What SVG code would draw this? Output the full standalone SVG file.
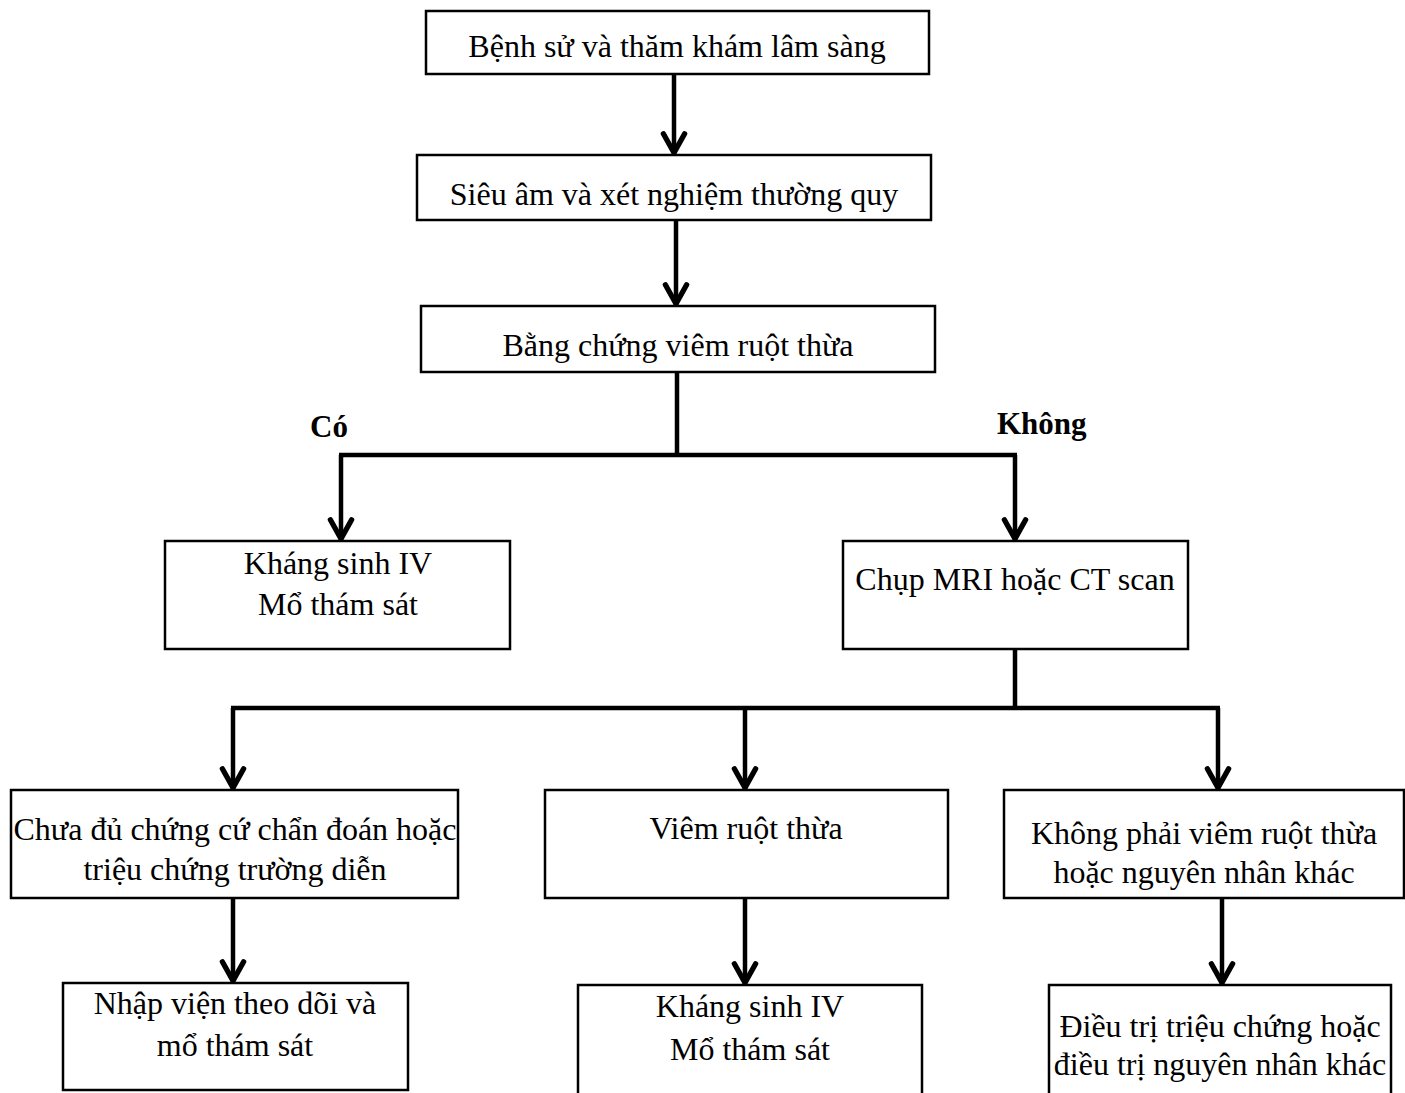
<svg xmlns="http://www.w3.org/2000/svg" width="1405" height="1093" viewBox="0 0 1405 1093">
  <style>
    .box { fill: #fff; stroke: #000; stroke-width: 2.5; }
    .t { font-family: "Liberation Serif", "Times New Roman", serif; font-size: 32px; fill: #000; text-anchor: middle; }
    .lbl { font-family: "Liberation Serif", "Times New Roman", serif; font-size: 31px; font-weight: bold; fill: #000; }
    .ln { fill: none; stroke: #000; stroke-width: 4.5; }
    .arr { fill: none; stroke: #000; stroke-width: 4.5; marker-end: url(#head); }
  </style>
  <defs>
    <!-- open V arrowhead, tip on the line end -->
    <marker id="head" markerUnits="userSpaceOnUse" markerWidth="34" markerHeight="34" viewBox="-28 -16 32 32" refX="0" refY="0" orient="auto">
      <path d="M -20 -10 L -2 0 L -20 10" fill="none" stroke="#000" stroke-width="5" stroke-linejoin="miter" stroke-linecap="round"/>
    </marker>
  </defs>

  <rect width="1405" height="1093" fill="#fff"/>

  <g id="connectors">
    <path class="arr" d="M 674 74 V 155"/>
    <path class="arr" d="M 676 220 V 306"/>
    <path class="ln" d="M 677 372 V 455"/>
    <path class="ln" d="M 339 455 H 1017"/>
    <path class="arr" d="M 341 455 V 541"/>
    <path class="arr" d="M 1015 455 V 541"/>
    <path class="ln" d="M 1015 649 V 708"/>
    <path class="ln" d="M 231 708 H 1220"/>
    <path class="arr" d="M 233 708 V 790"/>
    <path class="arr" d="M 745 708 V 790"/>
    <path class="arr" d="M 1218 708 V 790"/>
    <path class="arr" d="M 233 898 V 983"/>
    <path class="arr" d="M 745 898 V 985"/>
    <path class="arr" d="M 1222 898 V 985"/>
  </g>

  <g id="labels">
    <text class="lbl" x="310" y="437">Có</text>
    <text class="lbl" x="997" y="434">Không</text>
  </g>

  <g id="history">
    <rect class="box" x="426" y="11" width="503" height="63"/>
    <text class="t" x="677" y="57">Bệnh sử và thăm khám lâm sàng</text>
  </g>

  <g id="ultrasound">
    <rect class="box" x="417" y="155" width="514" height="65"/>
    <text class="t" x="674" y="205">Siêu âm và xét nghiệm thường quy</text>
  </g>

  <g id="evidence">
    <rect class="box" x="421" y="306" width="514" height="66"/>
    <text class="t" x="678" y="356">Bằng chứng viêm ruột thừa</text>
  </g>

  <g id="antibiotics-yes">
    <rect class="box" x="165" y="541" width="345" height="108"/>
    <text class="t" x="338" y="574">Kháng sinh IV</text>
    <text class="t" x="338" y="615">Mổ thám sát</text>
  </g>

  <g id="imaging">
    <rect class="box" x="843" y="541" width="345" height="108"/>
    <text class="t" x="1015" y="590">Chụp MRI hoặc CT scan</text>
  </g>

  <g id="inconclusive">
    <rect class="box" x="11" y="790" width="447" height="108"/>
    <text class="t" x="235" y="840">Chưa đủ chứng cứ chẩn đoán hoặc</text>
    <text class="t" x="235" y="880">triệu chứng trường diễn</text>
  </g>

  <g id="appendicitis">
    <rect class="box" x="545" y="790" width="403" height="108"/>
    <text class="t" x="746" y="839">Viêm ruột thừa</text>
  </g>

  <g id="other-cause">
    <rect class="box" x="1004" y="790" width="400" height="108"/>
    <text class="t" x="1204" y="844">Không phải viêm ruột thừa</text>
    <text class="t" x="1204" y="883">hoặc nguyên nhân khác</text>
  </g>

  <g id="observe">
    <rect class="box" x="63" y="983" width="345" height="107"/>
    <text class="t" x="235" y="1014">Nhập viện theo dõi và</text>
    <text class="t" x="235" y="1056">mổ thám sát</text>
  </g>

  <g id="antibiotics-surgery">
    <rect class="box" x="578" y="985" width="344" height="110"/>
    <text class="t" x="750" y="1017">Kháng sinh IV</text>
    <text class="t" x="750" y="1060">Mổ thám sát</text>
  </g>

  <g id="treatment">
    <rect class="box" x="1049" y="985" width="342" height="110"/>
    <text class="t" x="1220" y="1037">Điều trị triệu chứng hoặc</text>
    <text class="t" x="1220" y="1075">điều trị nguyên nhân khác</text>
  </g>
</svg>
